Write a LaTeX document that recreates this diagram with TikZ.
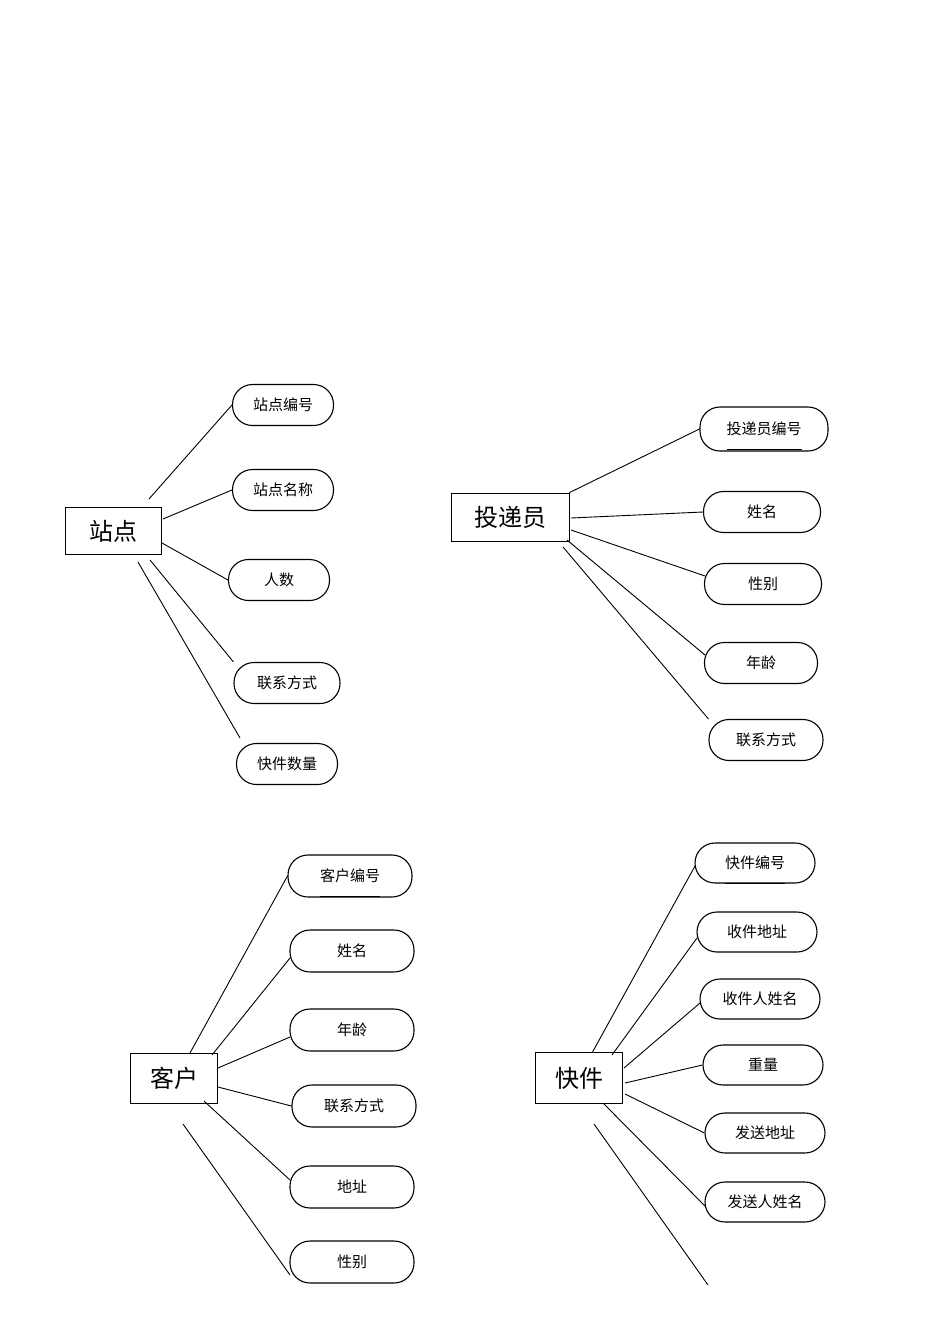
\documentclass[tikz,border=0pt]{standalone}
\usepackage{fontspec}
\setmainfont{Noto Sans CJK SC}
\begin{document}
\begin{tikzpicture}[x=1pt,y=-1pt,line width=1pt,
 ent/.style={draw,thick,fill=white,inner sep=0pt,font=\fontsize{24}{26}\selectfont},
 attr/.style={draw,line width=1.1pt,rounded corners=20pt,minimum width=101pt,minimum height=41pt,inner sep=0pt,font=\fontsize{15}{17}\selectfont},
 key/.style={attr,label={[yshift=-13pt,font=\fontsize{15}{17}\selectfont]center:\underline{\phantom{#1}}}},
 ln/.style={line width=0.9pt}]
\useasboundingbox (0,0) rectangle (950,1344);
% 站点
\node[ent,minimum width=96pt,minimum height=47pt] (zd) at (113,531) {站点};
\node[key=站点编号] (zd1) at (283,405) {站点编号};
\node[attr] (zd2) at (283,490) {站点名称};
\node[attr] (zd3) at (279,580) {人数};
\node[attr,minimum width=106pt] (zd4) at (287,683) {联系方式};
\node[attr] (zd5) at (287,764) {快件数量};
\coordinate (a1) at (149,499); \coordinate (a2) at (163,519); \coordinate (a3) at (162,543);
\coordinate (a4) at (150,560); \coordinate (a5) at (138,562);
\draw[ln] (a1)--(zd1.west); \draw[ln] (a2)--(zd2.west); \draw[ln] (a3)--(zd3.west);
\draw[ln] (a4)--(zd4.north west); \draw[ln] (a5)--(240,738) coordinate (a5e);
% 投递员
\node[ent,minimum width=118pt,minimum height=48pt] (td) at (510,517) {投递员};
\node[key=投递员编号,minimum width=128pt,minimum height=44pt] (td1) at (764,429) {投递员编号};
\node[attr,minimum width=117pt] (td2) at (762,512) {姓名};
\node[attr,minimum width=117pt] (td3) at (763,584) {性别};
\node[attr,minimum width=113pt] (td4) at (761,663) {年龄};
\node[attr,minimum width=114pt] (td5) at (766,740) {联系方式};
\draw[ln] (td.north east)--(td1.west);
\draw[ln] (571,518) coordinate (b2)--(td2.west);
\draw[ln] (571,530) coordinate (b3)--(705,576) coordinate (b3e);
\draw[ln] (567,540) coordinate (b4)--(705,655) coordinate (b4e);
\draw[ln] (563,547) coordinate (b5)--(td5.north west);
% 客户
\node[ent,minimum width=87pt,minimum height=50pt] (kh) at (174,1078) {客户};
\node[key=客户编号,minimum width=124pt,minimum height=42pt] (kh1) at (350,876) {客户编号};
\node[attr,minimum width=124pt,minimum height=42pt] (kh2) at (352,951) {姓名};
\node[attr,minimum width=124pt,minimum height=42pt] (kh3) at (352,1030) {年龄};
\node[attr,minimum width=124pt,minimum height=42pt] (kh4) at (354,1106) {联系方式};
\node[attr,minimum width=124pt,minimum height=42pt] (kh5) at (352,1187) {地址};
\node[attr,minimum width=124pt,minimum height=42pt] (kh6) at (352,1262) {性别};
\draw[ln] (190,1053) coordinate (c1)--(kh1.west);
\draw[ln] (212,1055) coordinate (c2)--(290,958) coordinate (c2e);
\draw[ln] (218,1068) coordinate (c3)--(290,1037) coordinate (c3e);
\draw[ln] (218,1087) coordinate (c4)--(kh4.west);
\draw[ln] (204,1101) coordinate (c5)--(290,1180) coordinate (c5e);
\draw[ln] (183,1124) coordinate (c6)--(290,1275) coordinate (c6e);
% 快件
\node[ent,minimum width=87pt,minimum height=51pt] (kj) at (579,1078) {快件};
\node[key=快件编号,minimum width=120pt,minimum height=40pt] (kj1) at (755,863) {快件编号};
\node[attr,minimum width=120pt,minimum height=40pt] (kj2) at (757,932) {收件地址};
\node[attr,minimum width=120pt,minimum height=40pt] (kj3) at (760,999) {收件人姓名};
\node[attr,minimum width=120pt,minimum height=40pt] (kj4) at (763,1065) {重量};
\node[attr,minimum width=120pt,minimum height=40pt] (kj5) at (765,1133) {发送地址};
\node[attr,minimum width=120pt,minimum height=40pt] (kj6) at (765,1202) {发送人姓名};
\draw[ln] (592,1053) coordinate (d1)--(695,866) coordinate (d1e);
\draw[ln] (612,1055) coordinate (d2)--(697,938) coordinate (d2e);
\draw[ln] (624,1068) coordinate (d3)--(700,1003) coordinate (d3e);
\draw[ln] (625,1083) coordinate (d4)--(kj4.west);
\draw[ln] (625,1094) coordinate (d5)--(kj5.west);
\draw[ln] (603,1103) coordinate (d6)--(705,1206) coordinate (d6e);
\draw[ln] (594,1124) coordinate (d7)--(708,1285) coordinate (d7e);
\end{tikzpicture}
\end{document}
